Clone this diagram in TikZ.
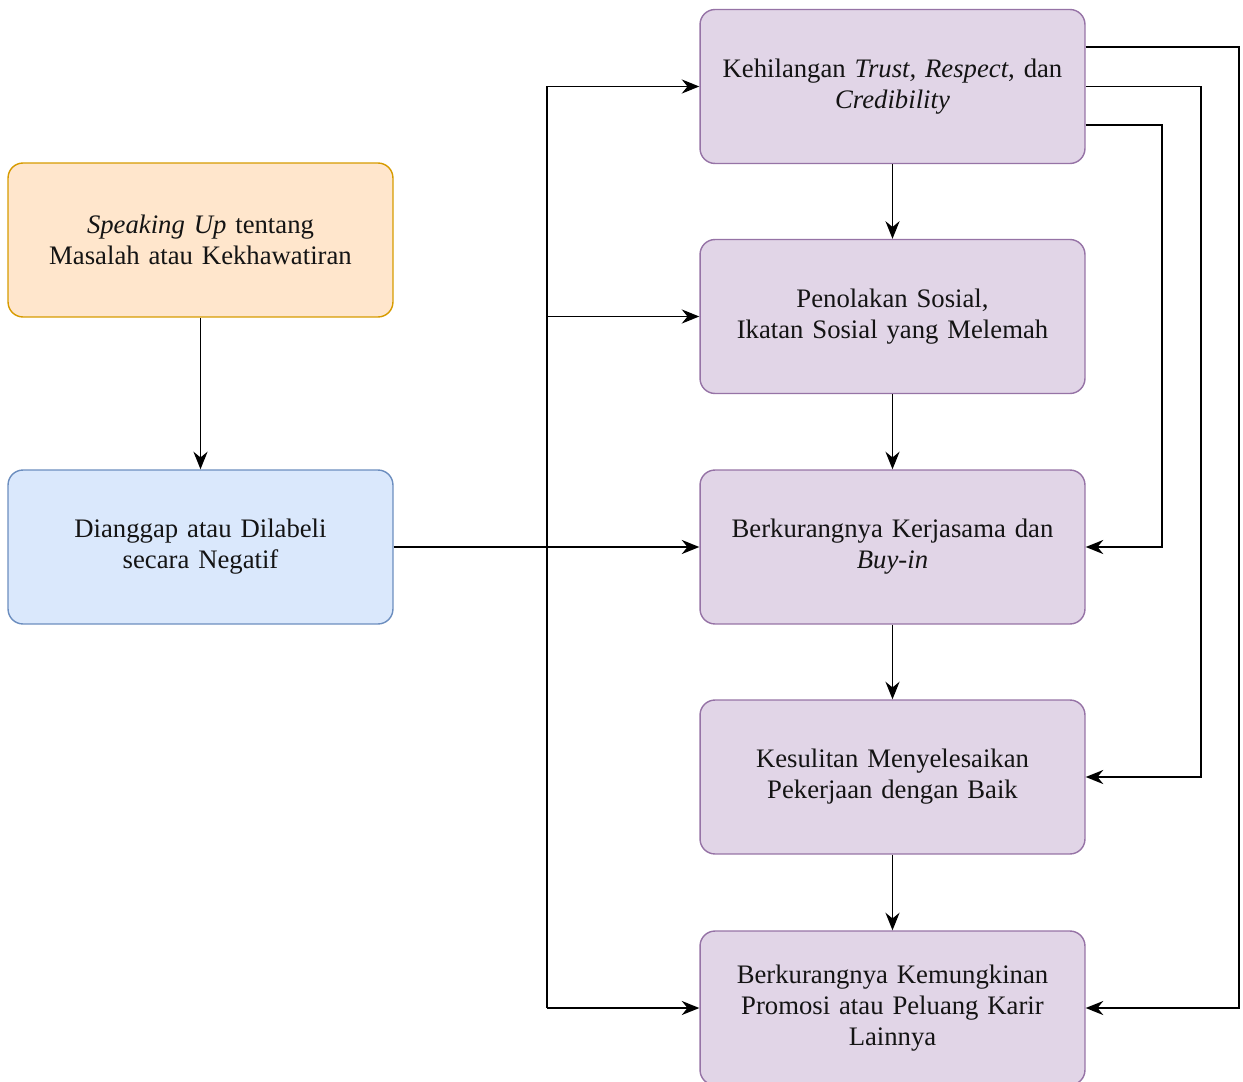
\documentclass[tikz,border=0pt]{standalone}
\usepackage{fontspec}
\setmainfont{Liberation Serif}
\usetikzlibrary{arrows.meta,positioning}
\definecolor{oranye}{HTML}{FFE6CC}
\definecolor{oranyegaris}{HTML}{D79B00}
\definecolor{biru}{HTML}{DAE8FC}
\definecolor{birugaris}{HTML}{6C8EBF}
\definecolor{ungu}{HTML}{E1D5E7}
\definecolor{ungugaris}{HTML}{9673A6}
\definecolor{teks}{RGB}{20,20,20}

\begin{document}
\begin{tikzpicture}[x=0.02cm,y=-0.02cm,
	kotak/.style={draw,rounded corners=0.3cm,minimum width=7.7cm,minimum height=3.08cm,
		text width=7.4cm,align=center,text=teks,line width=0.8pt,
		font=\fontsize{15.2}{17.6}\selectfont},
	panah/.style={-{Stealth[length=10pt,width=8pt]},line width=1.05pt}]
				\useasboundingbox (0,0) rectangle (1243,1081);
				
				% kiri
				\node[kotak,fill=oranye,draw=oranyegaris] (speak) at (200.5,240) {\textit{Speaking Up} tentang\\Masalah atau Kekhawatiran};
				\node[kotak,fill=biru,draw=birugaris] (label) at (200.5,547) {Dianggap atau Dilabeli\\secara Negatif};
				
				% kanan
				\node[kotak,fill=ungu,draw=ungugaris] (trust) at (892.5,86.5) {Kehilangan \textit{Trust, Respect}, dan\\\textit{Credibility}};
				\node[kotak,fill=ungu,draw=ungugaris] (sosial) at (892.5,316.5) {Penolakan Sosial,\\Ikatan Sosial yang Melemah};
				\node[kotak,fill=ungu,draw=ungugaris] (kerja) at (892.5,547) {Berkurangnya Kerjasama dan\\\textit{Buy-in}};
				\node[kotak,fill=ungu,draw=ungugaris] (sulit) at (892.5,777) {Kesulitan Menyelesaikan\\Pekerjaan dengan Baik};
				\node[kotak,fill=ungu,draw=ungugaris] (karir) at (892.5,1008) {Berkurangnya Kemungkinan\\Promosi atau Peluang Karir\\Lainnya};
				
				\draw[panah] (speak) -- (label);
				\draw[panah] (label) -- (kerja);
				
				% cabang
				\coordinate (atas) at (547,86.5);
				\coordinate (bawah) at (547,1008);
				\draw[line width=1.05pt] (atas) -- (bawah);
				\draw[panah] (atas) -- (trust);
				\draw[panah] (atas |- sosial) -- (sosial);
				\draw[panah] (bawah) -- (karir);
				
				\draw[panah] (trust) -- (sosial);
				\draw[panah] (sosial) -- (kerja);
				\draw[panah] (kerja) -- (sulit);
				\draw[panah] (sulit) -- (karir);
				
				% umpan balik
				\draw[panah] ([yshift=0.79cm]trust.east) -- ++(153,0) |- (karir);
				\draw[panah] (trust.east) -- ++(115,0) |- (sulit);
				\draw[panah] ([yshift=-0.77cm]trust.east) -- ++(76,0) |- (kerja);
			\end{tikzpicture}
\end{document}
